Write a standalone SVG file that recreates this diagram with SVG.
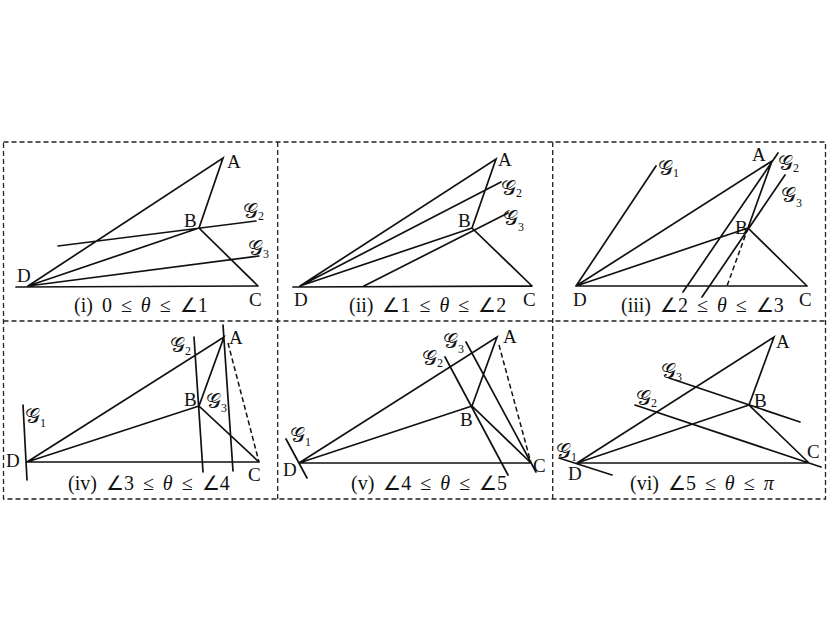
<svg xmlns="http://www.w3.org/2000/svg" width="830" height="642" viewBox="0 0 830 642">
<style>
.frame{fill:none;stroke:#222;stroke-width:1.3;stroke-dasharray:5 3}
.ln{fill:none;stroke:#111;stroke-width:1.7;stroke-linecap:round}
.dash{fill:none;stroke:#111;stroke-width:1.5;stroke-dasharray:5 3}
.lb{font-family:"Liberation Serif","Times New Roman",serif;font-size:19px;fill:#111}
.cap{font-family:"Liberation Serif","Times New Roman",serif;font-size:20px;fill:#111;word-spacing:4px}
.it{font-style:italic}
.g{font-family:"DejaVu Serif","DejaVu Sans","Noto Sans",serif;font-size:21px;fill:#111}
.sub{font-family:"Liberation Serif",serif;font-size:12px}
</style>
<rect width="830" height="642" fill="#fff"/>
<g id="frames">
<rect class="frame" x="3.5" y="142" width="822" height="357"/>
<line class="frame" x1="3.5" y1="321" x2="825.5" y2="321"/>
<line class="frame" x1="277.7" y1="142" x2="277.7" y2="499"/>
<line class="frame" x1="552.7" y1="142" x2="552.7" y2="499"/>
</g>
<g id="connectors">
<!-- panel i -->
<path class="ln" d="M16 287 L258 286 M28 286 L223 158 L199 228 L258 286 M28 286 L199 228 M58 246 L256 221 M28 286 L259 256"/>
<!-- panel ii -->
<path class="ln" d="M293 287 L532 286 M300 286 L496 159 L472 228 L532 286 M300 286 L472 228 M300 286 L501 182 M364 286 L508 213"/>
<!-- panel iii -->
<path class="ln" d="M576 286 L807 286 M576 286 L772 161 L748 228 L807 286 M576 286 L748 228 M576 286 L656 166 M683 292 L778 153 M702 297 L785 175"/>
<path class="dash" d="M748 228 L727 286"/>
<!-- panel iv -->
<path class="ln" d="M27 462 L259 462 M27 462 L224 337 L199 406 L259 462 M27 462 L199 406 M23 405 L27 480 M194 337 L203 472 M223 325 L233 471"/>
<path class="dash" d="M228 343 L259 462"/>
<!-- panel v -->
<path class="ln" d="M299 463 L531 463 M299 463 L497 337 L472 406 L531 463 M299 463 L472 406 M286 439 L307 478 M445 357 L508 475 M466 342 L536 472"/>
<path class="dash" d="M499 345 L531 463"/>
<!-- panel vi -->
<path class="ln" d="M577 463 L809 463 M577 463 L774 337 L749 405 L809 463 M577 463 L749 405 M559 458 L612 475 M635 405 L821 467 M669 378 L800 422"/>
</g>
<g id="panel-i">
<text class="lb" x="227" y="168">A</text>
<text class="lb" x="184" y="227">B</text>
<text class="lb" x="249" y="306">C</text>
<text class="lb" x="17" y="282">D</text>
<text class="g" x="243" y="218">𝒢<tspan class="sub" dy="2">2</tspan></text>
<text class="g" x="248" y="255">𝒢<tspan class="sub" dy="3">3</tspan></text>
<text class="cap" x="74" y="312">(i) 0 ≤ <tspan class="it">θ</tspan> ≤ ∠1</text>
</g>
<g id="panel-ii">
<text class="lb" x="498" y="166">A</text>
<text class="lb" x="458" y="227">B</text>
<text class="lb" x="523" y="306">C</text>
<text class="lb" x="294" y="306">D</text>
<text class="g" x="501" y="195">𝒢<tspan class="sub" dy="2">2</tspan></text>
<text class="g" x="503" y="225">𝒢<tspan class="sub" dy="6">3</tspan></text>
<text class="cap" x="349" y="312">(ii) ∠1 ≤ <tspan class="it">θ</tspan> ≤ ∠2</text>
</g>
<g id="panel-iii">
<text class="lb" x="752" y="161">A</text>
<text class="lb" x="735" y="234">B</text>
<text class="lb" x="799" y="306">C</text>
<text class="lb" x="573" y="306">D</text>
<text class="g" x="658" y="175">𝒢<tspan class="sub" dy="2">1</tspan></text>
<text class="g" x="778" y="170">𝒢<tspan class="sub" dy="2">2</tspan></text>
<text class="g" x="781" y="202">𝒢<tspan class="sub" dy="5">3</tspan></text>
<text class="cap" x="621" y="312">(iii) ∠2 ≤ <tspan class="it">θ</tspan> ≤ ∠3</text>
</g>
<g id="panel-iv">
<text class="lb" x="229" y="344">A</text>
<text class="lb" x="184" y="406">B</text>
<text class="lb" x="248" y="481">C</text>
<text class="lb" x="6" y="467">D</text>
<text class="g" x="25" y="423">𝒢<tspan class="sub" dy="4">1</tspan></text>
<text class="g" x="170" y="352">𝒢<tspan class="sub" dy="3">2</tspan></text>
<text class="g" x="206" y="408">𝒢<tspan class="sub" dy="4">3</tspan></text>
<text class="cap" x="68" y="490">(iv) ∠3 ≤ <tspan class="it">θ</tspan> ≤ ∠4</text>
</g>
<g id="panel-v">
<text class="lb" x="503" y="343">A</text>
<text class="lb" x="460" y="426">B</text>
<text class="lb" x="533" y="472">C</text>
<text class="lb" x="283" y="476">D</text>
<text class="g" x="290" y="442">𝒢<tspan class="sub" dy="4">1</tspan></text>
<text class="g" x="422" y="365">𝒢<tspan class="sub" dy="2">2</tspan></text>
<text class="g" x="443" y="348">𝒢<tspan class="sub" dy="5">3</tspan></text>
<text class="cap" x="351" y="490">(v) ∠4 ≤ <tspan class="it">θ</tspan> ≤ ∠5</text>
</g>
<g id="panel-vi">
<text class="lb" x="776" y="348">A</text>
<text class="lb" x="754" y="407">B</text>
<text class="lb" x="807" y="458">C</text>
<text class="lb" x="568" y="480">D</text>
<text class="g" x="556" y="458">𝒢<tspan class="sub" dy="3">1</tspan></text>
<text class="g" x="636" y="405">𝒢<tspan class="sub" dy="2">2</tspan></text>
<text class="g" x="661" y="378">𝒢<tspan class="sub" dy="3">3</tspan></text>
<text class="cap" x="630" y="490">(vi) ∠5 ≤ <tspan class="it">θ</tspan> ≤ <tspan class="it">π</tspan></text>
</g>
</svg>
